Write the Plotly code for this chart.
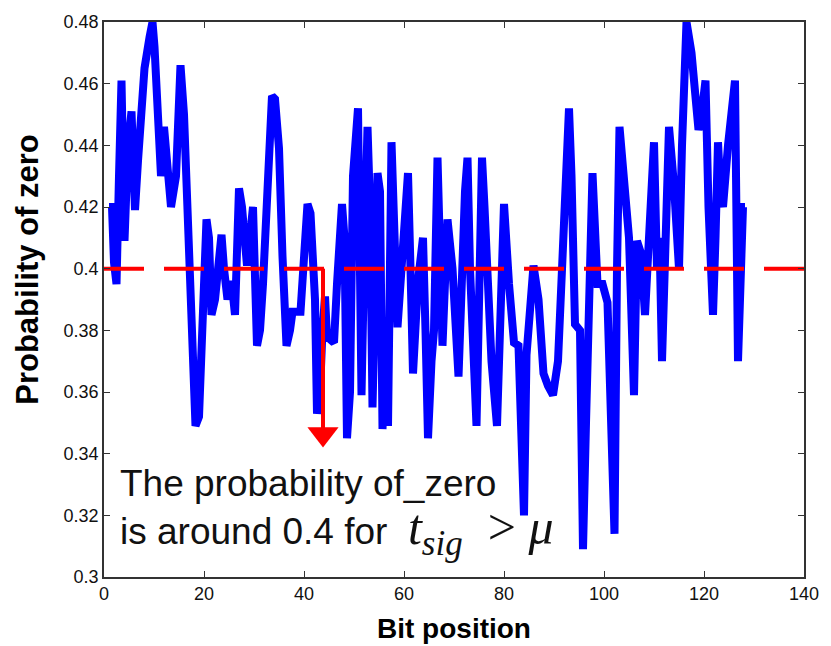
import plotly.graph_objects as go

# Bit position (x) and probability of zero (y)
bit_pos = [1.0, 1.6, 2.0, 2.5, 3.0, 3.5, 4.1, 4.8, 5.5, 6.2, 6.8, 7.4, 8.1, 9.1, 9.7, 10.1,
           10.8, 11.4, 12.0, 12.7, 13.4, 14.4, 15.3, 16.0, 16.5, 17.0, 17.6, 18.3, 19.0, 19.5,
           20.0, 20.5, 21.0, 21.5, 22.2, 23.0, 23.5, 24.0, 24.7, 25.5, 26.2, 27.0, 27.6, 28.6,
           29.8, 30.6, 31.2, 31.8, 32.5, 33.0, 33.6, 34.2, 35.0, 35.7, 36.0, 36.5, 37.2, 37.7,
           39.3, 40.0, 40.7, 41.3, 41.8, 42.2, 42.6, 43.2, 43.7, 44.2, 44.6, 46.0, 46.6, 47.6,
           48.1, 48.6, 49.2, 49.8, 50.8, 51.5, 52.0, 52.7, 53.2, 53.7, 54.2, 54.7, 55.2, 55.7,
           56.2, 56.8, 57.5, 58.0, 58.7, 59.5, 60.8, 61.3, 61.8, 62.8, 63.8, 64.3, 64.8, 65.5,
           66.0, 66.7, 67.2, 67.7, 68.7, 69.7, 70.9, 71.5, 72.2, 72.7, 73.2, 74.5, 75.0, 75.6,
           76.1, 76.6, 77.5, 78.6, 79.3, 80.0, 81.0, 82.0, 82.9, 83.5, 84.0, 84.5, 85.2, 85.9,
           86.9, 87.9, 88.8, 89.8, 90.8, 91.5, 92.2, 93.0, 93.5, 94.2, 95.2, 95.8, 96.4, 96.8,
           97.7, 98.7, 99.7, 100.7, 101.3, 102.1, 102.6, 103.1, 104.1, 105.0, 106.0, 106.6,
           107.4, 108.2, 109.0, 110.0, 110.6, 111.1, 111.6, 112.4, 113.0, 114.0, 115.0, 115.6,
           116.5, 117.5, 118.2, 118.9, 119.5, 120.3, 120.9, 121.8, 122.3, 122.8, 123.3, 123.8,
           124.8, 125.5, 126.2, 126.8, 127.3, 127.8, 128.2]
prob_zero = [0.420, 0.420, 0.402, 0.395, 0.430, 0.461, 0.409, 0.440, 0.451, 0.419, 0.435, 0.446,
             0.465, 0.475, 0.480, 0.472, 0.440, 0.430, 0.446, 0.432, 0.420, 0.430, 0.466, 0.450,
             0.428, 0.400, 0.370, 0.349, 0.352, 0.370, 0.390, 0.416, 0.410, 0.385, 0.390, 0.400,
             0.411, 0.400, 0.390, 0.396, 0.385, 0.426, 0.420, 0.401, 0.420, 0.375, 0.380, 0.395,
             0.420, 0.440, 0.456, 0.455, 0.439, 0.404, 0.385, 0.375, 0.380, 0.386, 0.386, 0.400,
             0.421, 0.418, 0.400, 0.390, 0.353, 0.360, 0.380, 0.391, 0.378, 0.376, 0.395, 0.421,
             0.410, 0.345, 0.360, 0.430, 0.452, 0.359, 0.400, 0.446, 0.420, 0.355, 0.390, 0.431,
             0.425, 0.348, 0.370, 0.349, 0.441, 0.420, 0.381, 0.400, 0.431, 0.400, 0.366, 0.396,
             0.410, 0.380, 0.345, 0.370, 0.380, 0.436, 0.410, 0.375, 0.416, 0.400, 0.365, 0.400,
             0.425, 0.436, 0.400, 0.349, 0.380, 0.436, 0.420, 0.400, 0.370, 0.349, 0.390, 0.421,
             0.395, 0.376, 0.375, 0.350, 0.320, 0.372, 0.390, 0.401, 0.390, 0.366, 0.362, 0.359,
             0.370, 0.400, 0.430, 0.452, 0.430, 0.382, 0.380, 0.309, 0.350, 0.380, 0.431, 0.395,
             0.395, 0.389, 0.360, 0.314, 0.400, 0.446, 0.427, 0.410, 0.359, 0.409, 0.405, 0.385,
             0.410, 0.441, 0.400, 0.410, 0.370, 0.419, 0.446, 0.427, 0.400, 0.440, 0.480, 0.470,
             0.460, 0.445, 0.450, 0.461, 0.420, 0.385, 0.410, 0.441, 0.425, 0.420, 0.440, 0.450,
             0.461, 0.370, 0.400, 0.420, 0.420]

threshold = 0.4
threshold_x = [0, 140]
arrow_x = 43.8
arrow_tip_y = 0.342
arrow_head_px = 27          # marker size of the arrow head
y_per_px = 0.18 / 560       # data units per pixel on the y axis

y_tickvals = [0.3, 0.32, 0.34, 0.36, 0.38, 0.4, 0.42, 0.44, 0.46, 0.48]
y_ticktext = ["0.3", "0.32", "0.34", "0.36", "0.38", "0.4", "0.42", "0.44", "0.46", "0.48"]
x_tickvals = [0, 20, 40, 60, 80, 100, 120, 140]

fig = go.Figure()
fig.add_trace(go.Scatter(x=bit_pos, y=prob_zero, mode="lines",
                         line=dict(color="#0000FF", width=8), showlegend=False,
                         hoverinfo="skip"))
fig.add_trace(go.Scatter(x=threshold_x, y=[threshold, threshold], mode="lines",
                         line=dict(color="#FF0000", width=4, dash="40px,20px"),
                         showlegend=False, hoverinfo="skip"))

# arrow: vertical shaft from the threshold line down to a triangular head
head_center = arrow_tip_y + (arrow_head_px / 2) * y_per_px
fig.add_trace(go.Scatter(x=[arrow_x, arrow_x], y=[threshold, head_center],
                         mode="lines+markers",
                         line=dict(color="#FF0000", width=4),
                         marker=dict(symbol="triangle-down", size=[0, arrow_head_px],
                                     color="#FF0000", opacity=1, line=dict(width=0)),
                         showlegend=False, hoverinfo="skip"))

serif = "font-family:'Liberation Serif','Times New Roman',serif;font-size:50px"
fig.add_annotation(
    x=2.8, y=0.3206, xref="x", yref="y", xanchor="left", yanchor="middle",
    align="left", showarrow=False,
    text=("The probability of_zero<br>is around 0.4 for&nbsp;&nbsp;"
          f"<span style=\"{serif}\"><i>t</i><sub><i>sig</i></sub>&nbsp;&nbsp;&gt;&nbsp;<i>μ</i></span>"),
    font=dict(family="Liberation Sans, Arial, sans-serif", size=37, color="#111111"))

fig.add_annotation(x=0.5, y=0, xref="paper", yref="paper", yshift=-51,
                   xanchor="center", yanchor="middle", showarrow=False,
                   text="<b>Bit position</b>",
                   font=dict(family="Liberation Sans, Arial, sans-serif", size=28, color="black"))
fig.add_annotation(x=0, y=0.5536, xref="paper", yref="paper", xshift=-76,
                   xanchor="center", yanchor="middle", showarrow=False, textangle=-90,
                   text="<b>Probability of zero</b>",
                   font=dict(family="Liberation Sans, Arial, sans-serif", size=31, color="black"))

axis_common = dict(showline=True, linecolor="#333333", linewidth=1.5, mirror="ticks",
                   ticks="inside", ticklen=6, tickcolor="#333333", showgrid=False,
                   zeroline=False,
                   tickfont=dict(family="Liberation Sans, Arial, sans-serif", size=18,
                                 color="#111111"))
fig.update_xaxes(range=[0, 140], tickvals=x_tickvals, **axis_common)
fig.update_yaxes(range=[0.3, 0.48], tickvals=y_tickvals, ticktext=y_ticktext, **axis_common)

fig.update_layout(width=831, height=646, margin=dict(l=104, r=18, t=17, b=69),
                  plot_bgcolor="white", paper_bgcolor="white")

fig.write_html("out.html")
